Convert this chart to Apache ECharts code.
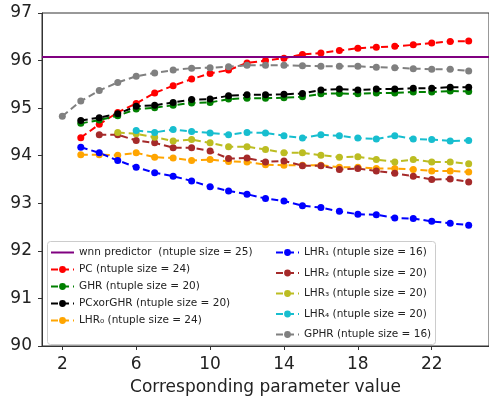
<!DOCTYPE html>
<html>
<head>
<meta charset="utf-8">
<script src="https://cdn.jsdelivr.net/npm/echarts@6/dist/echarts.min.js"></script>
<style>
  html, body { margin: 0; padding: 0; background: #fff; }
  #chart { width: 489px; height: 401px; }
</style>
</head>
<body>
<div id="chart"></div>
<script>
// Parameter values on the x axis (2 .. 24); null where a predictor has no run
const params = [2, 3, 4, 5, 6, 7, 8, 9, 10, 11, 12, 13, 14, 15, 16, 17, 18, 19, 20, 21, 22, 23, 24];
const xTicks = [2, 6, 10, 14, 18, 22];
const yTicks = [90, 91, 92, 93, 94, 95, 96, 97];

const wnnAccuracy = 96.07;

const pcValues = [null, 94.38, 94.66, 94.91, 95.10, 95.32, 95.47, 95.61, 95.73, 95.80, 95.95, 96.00, 96.05, 96.13, 96.16, 96.21, 96.26, 96.28, 96.30, 96.33, 96.37, 96.40, 96.41];
const ghrValues = [null, 94.68, 94.75, 94.84, 94.98, 95.01, 95.06, 95.11, 95.12, 95.19, 95.21, 95.21, 95.22, 95.24, 95.30, 95.31, 95.30, 95.32, 95.32, 95.34, 95.34, 95.36, 95.35];
const pcXorGhrValues = [null, 94.74, 94.80, 94.88, 95.04, 95.06, 95.12, 95.18, 95.19, 95.26, 95.28, 95.28, 95.29, 95.31, 95.38, 95.40, 95.38, 95.40, 95.40, 95.42, 95.42, 95.44, 95.44];
const lhr0Values = [null, 94.02, 94.02, 94.01, 94.06, 93.97, 93.95, 93.90, 93.92, 93.88, 93.87, 93.81, 93.80, 93.80, 93.80, 93.76, 93.76, 93.73, 93.73, 93.71, 93.68, 93.68, 93.66];
const lhr1Values = [null, 94.18, 94.06, 93.90, 93.76, 93.64, 93.57, 93.47, 93.35, 93.26, 93.19, 93.10, 93.05, 92.95, 92.91, 92.83, 92.77, 92.76, 92.69, 92.68, 92.62, 92.58, 92.54];
const lhr2Values = [null, null, 94.44, 94.44, 94.32, 94.27, 94.17, 94.17, 94.10, 93.94, 93.95, 93.87, 93.89, 93.79, 93.79, 93.71, 93.73, 93.68, 93.63, 93.57, 93.50, 93.51, 93.45];
const lhr3Values = [null, null, null, 94.49, 94.46, 94.39, 94.31, 94.34, 94.27, 94.19, 94.19, 94.13, 94.06, 94.06, 94.01, 93.97, 93.98, 93.92, 93.87, 93.92, 93.87, 93.87, 93.83];
const lhr4Values = [null, null, null, null, 94.53, 94.49, 94.55, 94.51, 94.48, 94.44, 94.49, 94.48, 94.42, 94.37, 94.44, 94.42, 94.37, 94.35, 94.42, 94.35, 94.34, 94.31, 94.32];
const gphrValues = [94.83, 95.15, 95.37, 95.54, 95.67, 95.74, 95.80, 95.84, 95.85, 95.87, 95.90, 95.90, 95.90, 95.89, 95.88, 95.88, 95.88, 95.86, 95.85, 95.83, 95.82, 95.82, 95.78];

const names = {
  wnn: 'wnn predictor  (ntuple size = 25)',
  pc: 'PC (ntuple size = 24)',
  ghr: 'GHR (ntuple size = 20)',
  xor: 'PCxorGHR (ntuple size = 20)',
  lhr0: 'LHR\u2080 (ntuple size = 24)',
  lhr1: 'LHR\u2081 (ntuple size = 16)',
  lhr2: 'LHR\u2082 (ntuple size = 20)',
  lhr3: 'LHR\u2083 (ntuple size = 20)',
  lhr4: 'LHR\u2084 (ntuple size = 20)',
  gphr: 'GPHR (ntuple size = 16)'
};

const FONT = 'DejaVu Sans';

function pairs(values) {
  const out = [];
  params.forEach((p, i) => { if (values[i] !== null) out.push([p, values[i]]); });
  return out;
}

function dashed(name, values, color) {
  return {
    name: name,
    type: 'line',
    data: pairs(values),
    color: color,
    symbol: 'circle',
    symbolSize: 7,
    lineStyle: { type: [7, 4], width: 2, color: color },
    itemStyle: { color: color },
    emphasis: { disabled: true }
  };
}

const chart = echarts.init(document.getElementById('chart'), null, { renderer: 'canvas' });

const legendText = { fontFamily: FONT, fontSize: 10.5, color: '#222' };

chart.setOption({
  animation: false,
  backgroundColor: '#fff',
  grid: {
    left: 42, top: 13, width: 450, height: 336,
    show: true, borderColor: '#333', borderWidth: 1, backgroundColor: 'transparent'
  },
  xAxis: {
    type: 'value',
    min: 0.9, max: 25.1,
    name: 'Corresponding parameter value',
    nameLocation: 'middle',
    nameGap: 33,
    nameTextStyle: { fontFamily: FONT, fontSize: 17, color: '#222' },
    axisLine: { show: true, lineStyle: { color: '#333', width: 1 } },
    axisTick: { show: true, length: 4, inside: false, customValues: xTicks, lineStyle: { color: '#333' } },
    axisLabel: { customValues: xTicks, fontFamily: FONT, fontSize: 17, color: '#222', margin: 10 },
    splitLine: { show: false }
  },
  yAxis: {
    type: 'value',
    min: 90, max: 97, interval: 1,
    axisLine: { show: true, lineStyle: { color: '#333', width: 1 } },
    axisTick: { show: true, length: 4, inside: false, customValues: yTicks, lineStyle: { color: '#333' } },
    axisLabel: { customValues: yTicks, fontFamily: FONT, fontSize: 17, color: '#222', margin: 10 },
    splitLine: { show: false }
  },
  graphic: [{
    type: 'rect',
    z: 3,
    shape: { x: 47.5, y: 241.5, width: 388, height: 103, r: 3 },
    style: { fill: 'rgba(255,255,255,0.85)', stroke: '#ccc', lineWidth: 1 }
  }],
  legend: [
    {
      orient: 'vertical', left: 50, top: 247, padding: 0, itemGap: 6,
      itemWidth: 23, itemHeight: 8.5, z: 5,
      textStyle: legendText,
      data: [
        { name: names.wnn, icon: 'path://M0,0H23V2H0Z' },
        names.pc, names.ghr, names.xor, names.lhr0
      ]
    },
    {
      orient: 'vertical', left: 275, top: 247, padding: 0, itemGap: 9.5,
      itemWidth: 23, itemHeight: 8.5, z: 5,
      textStyle: legendText,
      data: [names.lhr1, names.lhr2, names.lhr3, names.lhr4, names.gphr]
    }
  ],
  series: [
    {
      name: names.wnn,
      type: 'line',
      data: [],
      color: '#800080',
      symbol: 'none',
      lineStyle: { type: 'solid', width: 2, color: '#800080' },
      markLine: {
        silent: true,
        symbol: ['none', 'none'],
        label: { show: false },
        lineStyle: { type: 'solid', width: 2, color: '#800080' },
        data: [{ yAxis: wnnAccuracy }]
      }
    },
    dashed(names.pc, pcValues, '#ff0000'),
    dashed(names.ghr, ghrValues, '#008000'),
    dashed(names.xor, pcXorGhrValues, '#000000'),
    dashed(names.lhr0, lhr0Values, '#ffa500'),
    dashed(names.lhr1, lhr1Values, '#0000ff'),
    dashed(names.lhr2, lhr2Values, '#a52a2a'),
    dashed(names.lhr3, lhr3Values, '#bcbd22'),
    dashed(names.lhr4, lhr4Values, '#17becf'),
    dashed(names.gphr, gphrValues, '#808080')
  ]
});
</script>
</body>
</html>
